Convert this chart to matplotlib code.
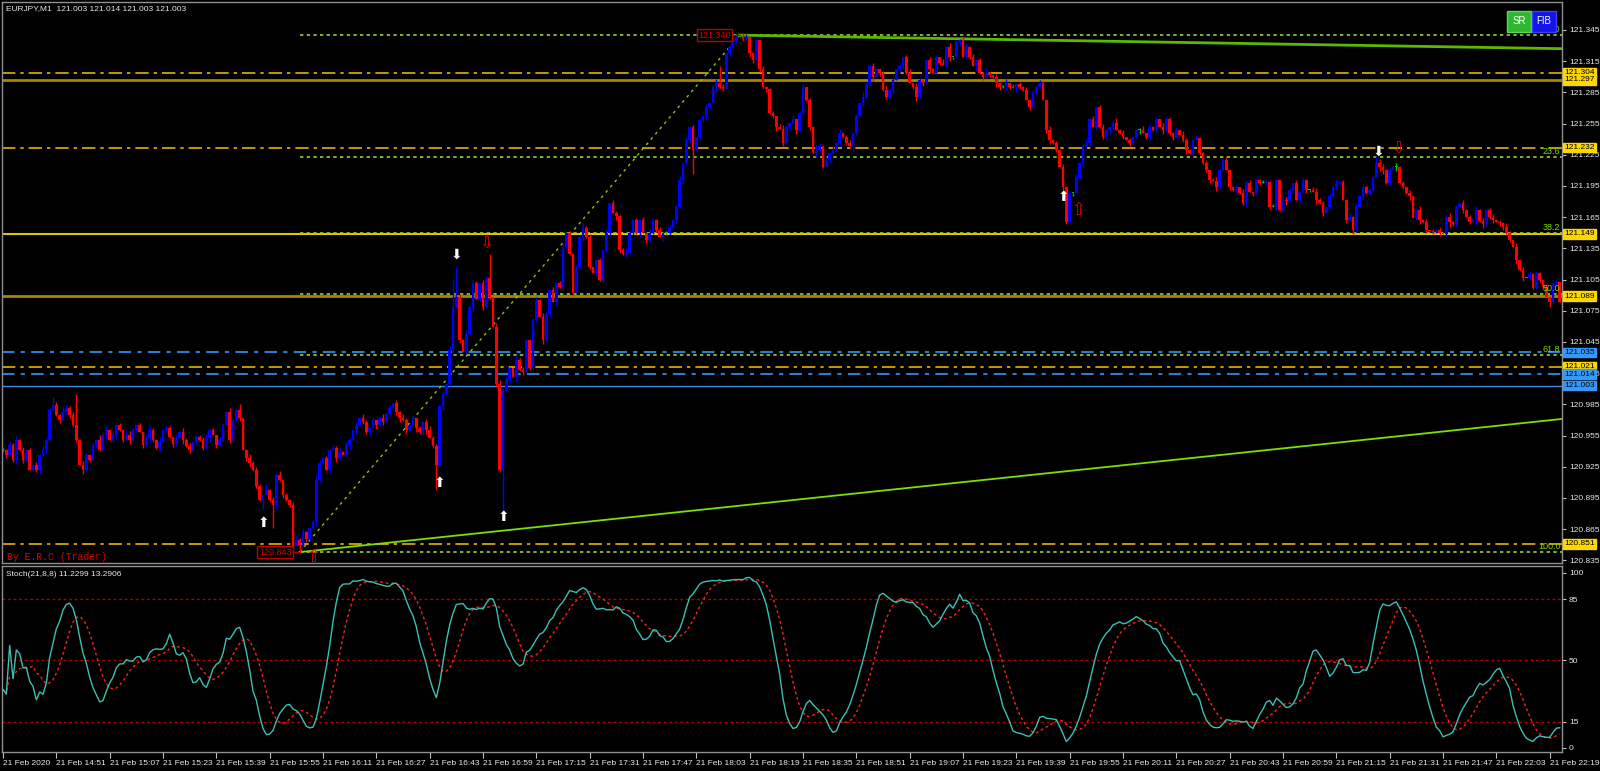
import matplotlib
matplotlib.use('Agg')
import matplotlib.pyplot as plt
from matplotlib.patches import Rectangle
from matplotlib.transforms import blended_transform_factory
import numpy as np
import pandas as pd

plt.rcParams['font.family'] = ['Liberation Sans', 'DejaVu Sans']

# EURJPY M1 closes, in points above 120.800 (1 point = 0.001)
BASE = 120.800
close_pts = [
    141, 136, 146, 132, 151, 141, 132, 141, 122, 127,
    122, 136, 141, 151, 180, 184, 175, 170, 178, 182,
    175, 165, 151, 127, 122, 136, 132, 146, 151, 141,
    156, 160, 151, 156, 165, 160, 151, 156, 151, 160,
    165, 158, 146, 153, 160, 151, 143, 149, 160, 162,
    154, 147, 153, 158, 151, 145, 141, 149, 154, 151,
    143, 153, 160, 156, 146, 151, 165, 178, 151, 170,
    180, 172, 141, 133, 129, 122, 107, 93, 98, 103,
    93, 88, 117, 112, 98, 93, 88, 49, 55, 50,
    62, 56, 66, 72, 112, 129, 133, 122, 141, 143,
    133, 139, 136, 146, 151, 160, 165, 172, 168, 158,
    162, 170, 165, 172, 168, 176, 182, 186, 178, 172,
    170, 160, 165, 172, 162, 158, 168, 160, 153, 145,
    127, 183, 195, 205, 237, 279, 288, 247, 235, 253,
    279, 302, 286, 302, 279, 307, 288, 259, 205, 122,
    199, 208, 220, 211, 228, 218, 216, 247, 220, 266,
    285, 269, 247, 272, 295, 283, 302, 298, 336, 350,
    330, 292, 317, 346, 355, 346, 317, 311, 324, 305,
    333, 350, 379, 369, 366, 333, 330, 331, 350, 362,
    350, 362, 350, 343, 350, 362, 353, 346, 350, 350,
    355, 362, 375, 401, 417, 439, 452, 430, 442, 458,
    462, 471, 475, 490, 494, 490, 488, 523, 529, 535,
    538, 538, 536, 538, 523, 516, 535, 507, 490, 488,
    465, 462, 452, 450, 436, 452, 456, 459, 449, 465,
    490, 478, 452, 427, 430, 433, 413, 420, 427, 430,
    436, 446, 442, 436, 433, 446, 462, 475, 481, 494,
    510, 500, 507, 504, 487, 481, 487, 497, 507, 510,
    519, 504, 494, 490, 481, 497, 494, 516, 507, 504,
    519, 513, 511, 529, 519, 519, 533, 535, 519, 529,
    519, 510, 516, 504, 500, 504, 502, 500, 494, 490,
    490, 494, 490, 489, 493, 490, 487, 478, 471, 485,
    490, 494, 478, 449, 439, 436, 430, 413, 394, 360,
    388, 388, 404, 417, 433, 436, 459, 452, 471, 452,
    442, 449, 452, 456, 449, 446, 442, 439, 436, 442,
    449, 449, 446, 442, 452, 449, 459, 452, 449, 459,
    446, 442, 449, 444, 439, 430, 427, 439, 441, 427,
    417, 410, 401, 400, 394, 410, 420, 410, 394, 391,
    394, 388, 379, 398, 389, 388, 401, 398, 398, 399,
    375, 375, 401, 372, 382, 381, 391, 398, 382, 389,
    401, 391, 391, 389, 382, 379, 369, 375, 385, 394,
    398, 399, 382, 362, 365, 353, 375, 385, 394, 388,
    391, 404, 417, 413, 410, 398, 410, 413, 413, 398,
    394, 388, 385, 364, 372, 362, 360, 353, 352, 351,
    353, 350, 349, 365, 360, 358, 375, 379, 372, 365,
    360, 362, 372, 361, 358, 372, 365, 362, 360, 359,
    356, 350, 343, 336, 324, 314, 307, 307, 310, 297,
    311, 305, 298, 288, 283, 302, 303, 283,
]

# wick lengths in points, one digit per bar
up_wick = ("2132413021" "3142203152" "1320421305" "2413021432" "1203421513"
           "2031423012" "3412032141" "2301423105" "1324021342" "3102431203"
           "2413203142" "1302412031" "4213021342" "2031420314" "1420312043"
           "2310423102" "3142031240" "2031423012" "1403212430" "2130421302"
           "3124031202" "1302413021" "2143012031" "1203421302" "3021430213"
           "1402312041" "2310241302" "1230421031" "2041302143" "1302142031"
           "2403121302" "1320412031" "2031241302" "3102413021" "1240312042"
           "2130421031" "1302412301" "2041302132" "1320421031" "2103412032"
           "3120413021" "1204312041" "2130241302" "1302412031" "2041312302"
           "1320413021" "2103142031")
dn_wick = ("1302413201" "2413021302" "3120412031" "1402312041" "2031421302"
           "1320413021" "2140312032" "1302412130" "2041312302" "1320421031"
           "3102413021" "2041302134" "1320412302" "2031241302" "1402312031"
           "3120413021" "2041302132" "1302412031" "2130421302" "1403212041"
           "2031423012" "1320412031" "3021430213" "1240312042" "2130421031"
           "1302142031" "2403121302" "3102413021" "1203421302" "2041302143"
           "1320421031" "2103412032" "1302413021" "2143012031" "1402312041"
           "2310241302" "1230421031" "3124031202" "2031241302" "1320413021"
           "2103142031" "1204312041" "2130241302" "1302412031" "2041312302"
           "3120413021" "1320412031")
hi_fix = {15: 192, 22: 195, 71: 185, 135: 305, 136: 317, 146: 330,
          215: 510, 221: 540, 412: 424}
lo_fix = {78: 84, 81: 66, 89: 43, 130: 103, 150: 83, 207: 407, 319: 358}

time_labels = ['21 Feb 2020', '21 Feb 14:51', '21 Feb 15:07', '21 Feb 15:23',
               '21 Feb 15:39', '21 Feb 15:55', '21 Feb 16:11', '21 Feb 16:27',
               '21 Feb 16:43', '21 Feb 16:59', '21 Feb 17:15', '21 Feb 17:31',
               '21 Feb 17:47', '21 Feb 18:03', '21 Feb 18:19', '21 Feb 18:35',
               '21 Feb 18:51', '21 Feb 19:07', '21 Feb 19:23', '21 Feb 19:39',
               '21 Feb 19:55', '21 Feb 20:11', '21 Feb 20:27', '21 Feb 20:43',
               '21 Feb 20:59', '21 Feb 21:15', '21 Feb 21:31', '21 Feb 21:47',
               '21 Feb 22:03', '21 Feb 22:19']
price_ticks = [121.345, 121.315, 121.285, 121.255, 121.225, 121.195, 121.165,
               121.135, 121.105, 121.075, 121.045, 121.015, 120.985, 120.955,
               120.925, 120.895, 120.865, 120.835]
stoch_ticks = [0, 15, 50, 85, 100]

# support / resistance lines
sr_dashdot = [121.304, 121.232, 121.021, 120.851]
sr_solid = [121.297, 121.089]
sr_bright = [121.149]
blue_dashdot = [121.035, 121.014]
blue_solid = [121.003]

# fibonacci swing (bar, price)
fib_lo_bar, fib_lo = 89, 120.843
fib_hi_bar, fib_hi = 221, 121.340
fib_levels = [0.0, 23.6, 38.2, 50.0, 61.8, 100.0]

# trend lines (bars, prices)
trend_top = ([221, 467.7], [121.340, 121.327])
trend_low = ([89, 467.7], [120.843, 120.971])

# signal arrows (bar, price)
white_up = [(78, 120.871), (131, 120.909), (150, 120.877), (318, 121.184)]
white_dn = [(136, 121.129), (412.5, 121.228)]
red_up = [(93, 120.838), (322.5, 121.172)]
red_dn = [(145, 121.141), (418.5, 121.232)]

# ---------------- OHLC ----------------
n = len(close_pts)
x = np.arange(n)
c = BASE + np.array(close_pts) / 1000
o = np.r_[c[0], c[:-1]]
uw = np.array([int(ch) for ch in up_wick[:n]]) / 1000
dw = np.array([int(ch) for ch in dn_wick[:n]]) / 1000
h = np.maximum(o, c) + uw
l = np.minimum(o, c) - dw
for k, v in hi_fix.items():
    h[k] = BASE + v / 1000
for k, v in lo_fix.items():
    l[k] = BASE + v / 1000

cols = np.where(c > o, '#0000FF', np.where(c < o, '#FF0000', '#00C000'))

# Stoch(21,8,8)
s_h, s_l, s_c = pd.Series(h), pd.Series(l), pd.Series(c)
ll = s_l.rolling(21, min_periods=1).min()
hh = s_h.rolling(21, min_periods=1).max()
num = (s_c - ll).rolling(8, min_periods=1).sum()
den = (hh - ll).rolling(8, min_periods=1).sum()
stoch_main = 100 * num / den
stoch_sig = stoch_main.rolling(8, min_periods=1).mean()

# ---------------- figure ----------------
W, H = 1600, 771
fig = plt.figure(figsize=(16, 7.71), dpi=100, facecolor='black')
ax = fig.add_axes([2 / W, 208 / H, 1560 / W, 561 / H], facecolor='black')
ax2 = fig.add_axes([2 / W, 19 / H, 1560 / W, 186 / H], facecolor='black')

txt_col = '#E8E8E8'
for a in (ax, ax2):
    for sp in a.spines.values():
        sp.set_color('#909090')
        sp.set_linewidth(1)
    a.set_xlim(-0.3, 467.7)
    a.yaxis.tick_right()
    a.tick_params(axis='y', colors='#C0C0C0', labelcolor=txt_col, labelsize=6,
                  direction='out', length=3, pad=2)

ax.set_ylim(120.8325, 121.3719)
ax.set_yticks(price_ticks)
ax.set_yticklabels([f'{v:.3f}' for v in price_ticks])
ax.set_xticks([])

# horizontal levels
for p in sr_dashdot:
    ax.axhline(p, color='#E5B400', lw=1.2, ls=(0, (8, 3, 2, 3)), zorder=1)
for p in sr_solid:
    ax.axhline(p, color='#A88400', lw=2, zorder=1)
for p in sr_bright:
    ax.axhline(p, color='#E0C800', lw=1.5, zorder=1)
for p in blue_dashdot:
    ax.axhline(p, color='#2B7BD0', lw=1.5, ls=(0, (6, 3, 2, 3)), zorder=1)
for p in blue_solid:
    ax.axhline(p, color='#3C8CE6', lw=1, zorder=1)

# fibonacci
rng = fib_hi - fib_lo
for lev in fib_levels:
    p = fib_hi - rng * lev / 100
    ax.plot([fib_lo_bar, 467.7], [p, p], color='#9ACD32', lw=1.2,
            ls=(0, (2, 2)), zorder=1)
    ax.text(467.2, p + 0.0008, f'{lev:.1f}', color='#7CDC00', fontsize=6.5,
            ha='right', va='bottom', zorder=5)
ax.plot([fib_lo_bar, fib_hi_bar], [fib_lo, fib_hi], color='#8CC800', lw=1,
        ls=(0, (2, 3)), zorder=2)

# trend lines
ax.plot(*trend_top, color='#5DB800', lw=2, zorder=2)
ax.plot(*trend_low, color='#7CE000', lw=1.3, zorder=2)

# candles
ax.vlines(x, l, h, colors=cols, lw=1, zorder=3)
body = np.maximum(np.abs(c - o), 0.0009)
ax.bar(x, body, bottom=np.minimum(o, c), width=0.75, color=cols,
       linewidth=0, zorder=3)

# swing price boxes
ax.text(218.3, fib_hi, '121.340', color='#D00000', fontsize=6.5, ha='right',
        va='center', zorder=6,
        bbox=dict(boxstyle='square,pad=0.15', fc='black', ec='#C00000', lw=1))
ax.plot([218.3, fib_hi_bar], [fib_hi, fib_hi], color='#C00000', lw=1, zorder=5)
ax.text(86.5, fib_lo, '120.843', color='#D00000', fontsize=6.5, ha='right',
        va='center', zorder=6,
        bbox=dict(boxstyle='square,pad=0.15', fc='black', ec='#C00000', lw=1))
ax.plot([86.5, fib_lo_bar], [fib_lo, fib_lo], color='#C00000', lw=1, zorder=5)

# arrows
for b, p in white_up:
    ax.text(b, p, '\u2B06', color='white', fontsize=10, ha='center',
            va='center', zorder=7, family=['DejaVu Sans'])
for b, p in white_dn:
    ax.text(b, p, '\u2B07', color='white', fontsize=10, ha='center',
            va='center', zorder=7, family=['DejaVu Sans'])
for b, p in red_up:
    ax.text(b, p, '\u21E7', color='#E00000', fontsize=12, ha='center',
            va='center', zorder=7, family=['DejaVu Sans'])
for b, p in red_dn:
    ax.text(b, p, '\u21E9', color='#E00000', fontsize=12, ha='center',
            va='center', zorder=7, family=['DejaVu Sans'])

# right-axis price boxes (overlapping pairs drawn as in the terminal)
tr = blended_transform_factory(ax.transAxes, ax.transData)
for p in sr_dashdot + sr_solid + sr_bright:
    ax.text(1.0015, p, f'{p:.3f}', transform=tr, color='black', fontsize=6,
            ha='left', va='center', zorder=8,
            bbox=dict(boxstyle='square,pad=0.15', fc='#FFD700', ec='#FFD700'))
for p in blue_dashdot + blue_solid:
    ax.text(1.0015, p, f'{p:.3f}', transform=tr, color='black', fontsize=6,
            ha='left', va='center', zorder=8,
            bbox=dict(boxstyle='square,pad=0.15', fc='#3399FF', ec='#3399FF'))

# stochastic panel
ax2.set_ylim(-2.3, 104)
ax2.set_yticks(stoch_ticks)
ax2.set_yticklabels([str(v) for v in stoch_ticks])
for lev in (15, 50, 85):
    ax2.axhline(lev, color='#B00000', lw=1, ls=(0, (2, 2)), zorder=1)
ax2.plot(x, stoch_main, color='#3CC0B4', lw=1, zorder=3)
ax2.plot(x, stoch_sig, color='#FF2020', lw=1, ls=(0, (2, 2)), zorder=2)
ax2.set_xticks(np.arange(0, 16 * len(time_labels), 16))
ax2.set_xticklabels(time_labels, ha='left')
ax2.tick_params(axis='x', colors='#C0C0C0', labelcolor=txt_col, labelsize=6,
                direction='out', length=4, pad=2)

# texts
fig.text(6 / W, 1 - 9 / H, 'EURJPY,M1  121.003 121.014 121.003 121.003',
         color=txt_col, fontsize=6, va='center')
fig.text(6 / W, 1 - 575 / H, 'Stoch(21,8,8) 11.2299 13.2906',
         color=txt_col, fontsize=6, va='center')
fig.text(7 / W, 1 - 557 / H, 'By E.R.C (Trader)', color='#E00000',
         fontsize=7, va='center', family=['Liberation Mono', 'DejaVu Sans Mono'])

# SR / FIB buttons
for x0, lab, fc, ec in [(1507, 'SR', '#2DB82D', '#60D860'),
                        (1532, 'FIB', '#1414E6', '#4040FF')]:
    fig.add_artist(Rectangle((x0 / W, 1 - 32 / H), 24 / W, 21 / H,
                             transform=fig.transFigure, fc=fc, ec=ec, lw=1))
    fig.text((x0 + 12) / W, 1 - 21.5 / H, lab, color='white', fontsize=7,
             ha='center', va='center')

fig.savefig('out.png', dpi=100, facecolor='black')
